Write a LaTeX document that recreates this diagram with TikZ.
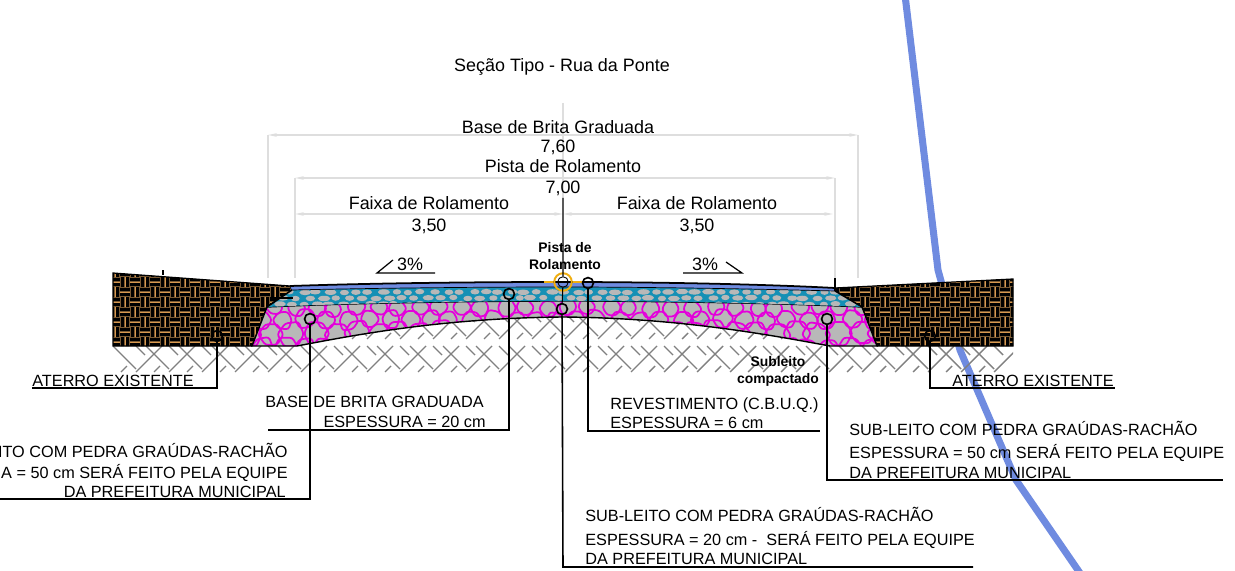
\documentclass[tikz,border=0pt]{standalone}
\usepackage{fontspec}
\setmainfont{Liberation Sans}
\usetikzlibrary{arrows.meta}
\definecolor{linhaazul}{HTML}{6F8BE0}
\definecolor{terrabase}{HTML}{7A5A34}
\definecolor{terrafio}{HTML}{D9994F}
\definecolor{baseazul}{HTML}{1590B5}
\definecolor{pedra}{HTML}{B8B8B8}
\definecolor{rachao}{HTML}{E400DB}
\definecolor{cota}{HTML}{DEDEDE}
\definecolor{marca}{HTML}{F0AE10}
\tikzset{
  capt/.style={inner sep=0pt,anchor=base west,font=\fontsize{9.25}{11}\selectfont},
  captr/.style={capt,anchor=base east},
  dim/.style={inner sep=0pt,anchor=base,font=\fontsize{10.2}{12}\selectfont},
  smallt/.style={inner sep=0pt,align=center,font=\bfseries\fontsize{7.9}{9.6}\selectfont},
  lead/.style={circle,draw=black,line width=.95pt,inner sep=0pt,minimum size=6.2pt},
  leadline/.style={line width=.9pt,black},
  dimline/.style={line width=.8pt,cota},
  hatchline/.style={line width=.8pt,gray},
  stoneline/.style={rachao,line width=1pt,line join=round},
  dimtips/.style={{Stealth[length=5pt,width=2pt]}-{Stealth[length=5pt,width=2pt]}},
}
\begin{document}
\begin{tikzpicture}[x=.02cm,y=-.02cm]
    \useasboundingbox (0,0) rectangle (1235,571);
    % blue line behind everything
    \draw[linhaazul,line width=4pt] (905,-5) -- (938,270) -- (960,350) -- (1016,480) -- (1082,576);
    % ground hatch
    \begin{scope}
      \clip (113,346) -- (297,346) .. controls (350,336) and (440,318) .. (563,317) .. controls (680,318) and (770,335) .. (830,346) -- (1013,346) -- (1013,375) -- (113,375) -- cycle;
      \foreach \yy in {280,313,346}{
        \foreach \xx in {113,146,...,990}{
          \draw[hatchline] (\xx,\yy) -- ++(23,23);
          \draw[hatchline] (\xx+23,\yy) -- ++(9,9);
          \draw[hatchline] (\xx+23,\yy+26) -- (\xx+49,\yy);
          \draw[hatchline] (\xx+8,\yy+26) -- ++(6,-6);
        }
      }
    \end{scope}
    % existing fill, both sides
    \foreach \lado/\contorno in {l/{(113,273) -- (290,286) -- (292,290) -- (268,306) -- (252,346) -- (113,346) -- cycle},r/{(1013,279) -- (835,288) -- (835,291) -- (862,307) -- (877,346) -- (1013,346) -- cycle}}{
      \begin{scope}
        \path[clip] \contorno;
        \fill[terrabase] (100,260) rectangle (1020,350);
        \foreach \i in {0,...,90}{
          \foreach \j in {0,...,8}{
            \pgfmathsetmacro\xa{110+10*\i}
            \pgfmathsetmacro\ya{267+10*\j}
            \pgfmathtruncatemacro\impar{mod(\i+\j,2)}
            \ifnum\impar=0
              \draw[black,line width=1.15pt] (\xa+2.5,\ya) -- ++(0,10) (\xa+7.5,\ya) -- ++(0,10);
              \draw[terrafio,line width=.55pt] (\xa+5,\ya) -- ++(0,10);
            \else
              \draw[black,line width=1.15pt] (\xa,\ya+2.5) -- ++(10,0) (\xa,\ya+7.5) -- ++(10,0);
              \draw[terrafio,line width=.55pt] (\xa,\ya+5) -- ++(10,0);
            \fi
          }
        }
      \end{scope}
      \draw[line width=.7pt] \contorno;
    }
    \draw[line width=.8pt] (163,270) -- (163,275);
    % sub-base with large stones
    \pgfmathsetseed{417}
    \begin{scope}
      \clip (252,346) -- (267,307) .. controls (350,303) and (480,301) .. (563,301) .. controls (650,301) and (780,303) .. (862,307) -- (877,346) -- (830,346) .. controls (770,335) and (680,318) .. (563,317) .. controls (440,318) and (350,336) .. (297,346) -- cycle;
      \fill[pedra] (250,295) rectangle (880,350);
      \foreach \row/\yy/\rr in {0/308/9,1/320/10,0/334/13,1/349/12}{
        \foreach \n in {0,...,30}{
          \pgfmathsetmacro\xa{252+21*\n+10*\row+3*rand}
          \pgfmathsetmacro\ya{\yy+1.5*rand}
          \pgfmathsetmacro\ra{\rr*(1+.12*rand)}
          \pgfmathsetmacro\rb{\rr*(1+.12*rand)}
          \pgfmathsetmacro\rc{\rr*(1+.12*rand)}
          \pgfmathsetmacro\rd{\rr*(1+.12*rand)}
          \draw[stoneline,rounded corners=1.5pt,shift={(\xa,\ya)}] (0:\ra) -- (60:\rb) -- (120:\rc) -- (180:\rd) -- (240:\ra) -- (300:\rc) -- cycle;
        }
      }
    \end{scope}
    \draw[line width=.8pt] (252,346) -- (267,307) .. controls (350,303) and (480,301) .. (563,301) .. controls (650,301) and (780,303) .. (862,307) -- (877,346) -- (830,346) .. controls (770,335) and (680,318) .. (563,317) .. controls (440,318) and (350,336) .. (297,346) -- cycle;
    % graded base with small stones
    \begin{scope}
      \clip (267,307) -- (292,290) .. controls (380,288) and (480,287) .. (563,287) .. controls (650,287) and (760,289) .. (835,291) -- (862,307) .. controls (780,303) and (650,301) .. (563,301) .. controls (480,301) and (350,303) .. (267,307) -- cycle;
      \fill[baseazul] (260,280) rectangle (870,310);
      \foreach \row/\yy in {0/292,1/298,0/304}{
        \foreach \n in {0,...,46}{
          \pgfmathsetmacro\xa{265+13*\n+6*\row+2*rand}
          \pgfmathsetmacro\ya{\yy+.6*rand}
          \pgfmathsetmacro\ra{5.2+1.2*rand}
          \fill[pedra,shift={(\xa,\ya)}] (0,0) ellipse [x radius=\ra,y radius=2.7];
        }
      }
    \end{scope}
    \draw[line width=.8pt] (267,307) -- (292,290);
    \draw[line width=.8pt] (835,291) -- (862,307);
    \draw[line width=.8pt] (270,298) -- (293,298);
    % wearing course
    \fill[linhaazul] (290,286) .. controls (380,283) and (480,282) .. (563,282) .. controls (650,282) and (760,284) .. (835,288) -- (835,291) .. controls (760,289) and (650,287) .. (563,287) .. controls (480,287) and (380,288) .. (292,290) -- cycle;
    \draw[line width=1pt] (290,286) .. controls (380,283) and (480,282) .. (563,282) .. controls (650,282) and (760,284) .. (835,288);
    \draw[line width=.4pt] (292,290) .. controls (380,288) and (480,287) .. (563,287) .. controls (650,287) and (760,289) .. (835,291);
    \draw[line width=.8pt] (835,278) -- (835,291);
    % dimension lines
    \coordinate (baseA) at (268,135);
    \coordinate (baseB) at (858,135);
    \coordinate (baseC) at (268,278);
    \coordinate (baseD) at (858,278);
    \coordinate (pistaA) at (295,178);
    \coordinate (pistaB) at (835,178);
    \coordinate (pistaC) at (295,278);
    \coordinate (pistaD) at (835,278);
    \coordinate (faixaA) at (295,214);
    \coordinate (faixaB) at (563,214);
    \coordinate (faixaC) at (833,214);
    \draw[dimline,dimtips] (baseA) -- (baseB);
    \draw[dimline,dimtips] (pistaA) -- (pistaB);
    \draw[dimline,dimtips] (faixaA) -- (faixaB);
    \draw[dimline,dimtips] (faixaB) -- (faixaC);
    \draw[dimline] (baseA) -- (baseC);
    \draw[dimline] (baseB) -- (baseD);
    \draw[dimline] (pistaA) -- (pistaC);
    \draw[dimline] (pistaB) -- (pistaD);
    % centre mark
    \coordinate (axisTop) at (563,103);
    \coordinate (axisMid) at (563,198);
    \coordinate (axisEnd) at (563,567);
    \coordinate (axisRight) at (973,567);
    \draw[dimline] (axisTop) -- (axisMid);
    \node[circle,draw=marca,line width=1.1pt,inner sep=0pt,minimum size=10pt] (markC) at (563,282) {};
    \coordinate (markL) at (544,282);
    \coordinate (markR) at (582,282);
    \draw[marca,line width=.8pt] (markL) -- (markC.west) (markC.east) -- (markR);
    \node[lead,line width=.5pt,minimum size=6pt] (axisC) at (563,282) {};
    \node[lead] (subC) at (562,309) {};
    \draw[leadline,line width=.6pt] (axisMid) -- (axisC) (axisC) -- (subC);
    \draw[leadline] (subC) -- (axisEnd) -- (axisRight);
    % leaders
    \node[lead] (aterroL) at (217,336) {};
    \coordinate (aterroLa) at (217,388);
    \coordinate (aterroLb) at (32,388);
    \draw[leadline] (aterroL) -- (aterroLa) -- (aterroLb);
    \node[lead] (aterroR) at (930,336) {};
    \coordinate (aterroRa) at (930,388);
    \coordinate (aterroRb) at (1115,388);
    \draw[leadline] (aterroR) -- (aterroRa) -- (aterroRb);
    \node[lead] (brita) at (509,294) {};
    \coordinate (britaA) at (509,430);
    \coordinate (britaB) at (268,430);
    \draw[leadline] (brita) -- (britaA) -- (britaB);
    \node[lead] (reves) at (588,283) {};
    \coordinate (revesA) at (588,431);
    \coordinate (revesB) at (820,431);
    \draw[leadline] (reves) -- (revesA) -- (revesB);
    \node[lead] (subL) at (310,319) {};
    \coordinate (subLa) at (310,499);
    \coordinate (subLb) at (0,499);
    \draw[leadline] (subL) -- (subLa) -- (subLb);
    \node[lead] (subR) at (827,319) {};
    \coordinate (subRa) at (827,480);
    \coordinate (subRb) at (1223,480);
    \draw[leadline] (subR) -- (subRa) -- (subRb);
    % slopes
    \coordinate (slopeLa) at (393,260);
    \coordinate (slopeLb) at (377,273);
    \coordinate (slopeLc) at (435,273);
    \draw[line width=.7pt] (slopeLa) -- (slopeLb) -- (slopeLc);
    \coordinate (slopeRa) at (726,262);
    \coordinate (slopeRb) at (742,273);
    \coordinate (slopeRc) at (683,273);
    \draw[line width=.7pt] (slopeRa) -- (slopeRb) -- (slopeRc);
    \node[dim] (slopeL) at (410,271) {3\%};
    \node[dim] (slopeR) at (705,271) {3\%};
    % texts
    \node[dim] (title) at (562,72) {Seção Tipo - Rua da Ponte};
    \node[dim] (dimA) at (558,133) {Base de Brita Graduada};
    \node[dim] (dimB) at (558,153) {7,60};
    \node[dim] (dimC) at (563,173) {Pista de Rolamento};
    \node[dim] (dimD) at (563,194) {7,00};
    \node[dim] (dimE) at (429,210) {Faixa de Rolamento};
    \node[dim] (dimF) at (697,210) {Faixa de Rolamento};
    \node[dim] (dimG) at (429,232) {3,50};
    \node[dim] (dimH) at (697,232) {3,50};
    \node[smallt] (pistaT) at (565,256) {Pista de\\Rolamento};
    \node[smallt] (subleitoT) at (778,371) {Subleito\\compactado};
    \node[capt] (capA) at (32,386) {ATERRO EXISTENTE};
    \node[capt] (capB) at (952,386) {ATERRO EXISTENTE};
    \node[captr] (capC) at (484,407) {BASE DE BRITA GRADUADA};
    \node[captr] (capD) at (486,427) {ESPESSURA = 20 cm};
    \node[capt] (capE) at (610,409) {REVESTIMENTO (C.B.U.Q.)};
    \node[capt] (capF) at (610,428) {ESPESSURA = 6 cm};
    \node[captr] (capG) at (288,457) {ITO COM PEDRA GRAÚDAS-RACHÃO};
    \node[captr] (capH) at (288,478) {A = 50 cm SERÁ FEITO PELA EQUIPE};
    \node[captr] (capI) at (286,497) {DA PREFEITURA MUNICIPAL};
    \node[capt] (capJ) at (849,435) {SUB-LEITO COM PEDRA GRAÚDAS-RACHÃO};
    \node[capt] (capK) at (849,458) {ESPESSURA = 50 cm SERÁ FEITO PELA EQUIPE};
    \node[capt] (capL) at (849,478) {DA PREFEITURA MUNICIPAL};
    \node[capt] (capM) at (585,521) {SUB-LEITO COM PEDRA GRAÚDAS-RACHÃO};
    \node[capt] (capN) at (585,545) {ESPESSURA = 20 cm -~~SERÁ FEITO PELA EQUIPE};
    \node[capt] (capO) at (585,564) {DA PREFEITURA MUNICIPAL};
  \end{tikzpicture}
\end{document}
